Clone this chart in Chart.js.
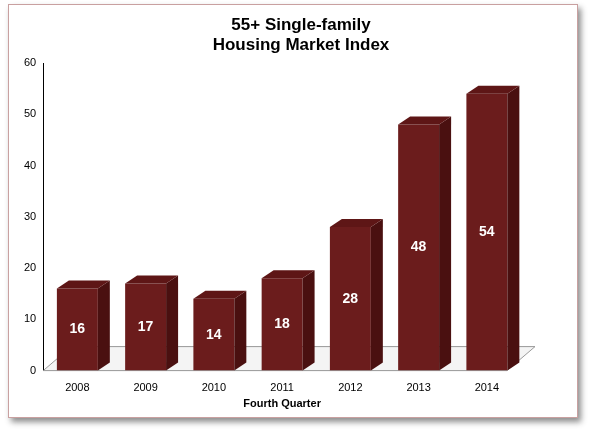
<!DOCTYPE html>
<html><head><meta charset="utf-8">
<script src="https://cdn.jsdelivr.net/npm/chart.js@4"></script>
<style>
body{margin:0;background:#fff;}
#frame{position:absolute;left:8px;top:4px;width:568px;height:412px;background:#fff;border:1px solid #c9a0a0;box-shadow:3px 4px 6px rgba(0,0,0,0.45);}
#c{position:absolute;left:0;top:0;}
</style></head><body>
<div id="frame"><canvas id="c" width="568" height="412"></canvas></div>
<script>
// chart values
var years = ["2008","2009","2010","2011","2012","2013","2014"];
var index = [16, 17, 14, 18, 28, 48, 54];
var yTicks = [0, 10, 20, 30, 40, 50, 60];
var titleLines = ["55+ Single-family", "Housing Market Index"];

var DX = 12, DY = -8;

// draws the side and top faces plus the floor, the value labels and the title
var box3d = {
  id: "box3d",
  beforeDatasetsDraw: function(chart) {
    var ctx = chart.ctx, a = chart.chartArea, y0 = chart.scales.y.getPixelForValue(0);
    ctx.save();
    ctx.fillStyle = "#f4f4f4"; ctx.strokeStyle = "#999"; ctx.lineWidth = 1;
    ctx.beginPath();
    ctx.moveTo(a.left, y0); ctx.lineTo(a.right - 14, y0);
    ctx.lineTo(a.right + 14, y0 - 24); ctx.lineTo(a.left + 28, y0 - 24);
    ctx.closePath(); ctx.fill(); ctx.stroke();
    ctx.restore();
  },
  afterDatasetsDraw: function(chart) {
    var ctx = chart.ctx;
    chart.getDatasetMeta(0).data.forEach(function(bar, i) {
      var l = bar.x - bar.width / 2, r = bar.x + bar.width / 2, t = bar.y, b = bar.base;
      ctx.save();
      ctx.fillStyle = "#4a1010";
      ctx.beginPath();
      ctx.moveTo(r, t); ctx.lineTo(r + DX, t + DY); ctx.lineTo(r + DX, b + DY); ctx.lineTo(r, b);
      ctx.closePath(); ctx.fill();
      ctx.fillStyle = "#5e1616";
      ctx.beginPath();
      ctx.moveTo(l, t); ctx.lineTo(l + DX, t + DY); ctx.lineTo(r + DX, t + DY); ctx.lineTo(r, t);
      ctx.closePath(); ctx.fill();
      ctx.fillStyle = "#fff";
      ctx.font = "bold 14px Arial, 'Liberation Sans'";
      ctx.textAlign = "center"; ctx.textBaseline = "middle";
      ctx.fillText(index[i], bar.x, (t + b) / 2);
      ctx.restore();
    });
    ctx.save();
    ctx.fillStyle = "#000";
    ctx.font = "bold 17px Arial, 'Liberation Sans'";
    ctx.textAlign = "center"; ctx.textBaseline = "middle";
    ctx.fillText(titleLines[0], 292, 20);
    ctx.fillText(titleLines[1], 292, 40);
    ctx.restore();
  }
};

new Chart(document.getElementById("c"), {
  type: "bar",
  data: { labels: years, datasets: [{ data: index, backgroundColor: "#6b1c1c", barPercentage: 0.6, categoryPercentage: 1 }] },
  options: {
    responsive: false, animation: false,
    layout: { padding: { left: 12, right: 56, top: 58, bottom: 2 } },
    plugins: { legend: { display: false }, tooltip: { enabled: false } },
    scales: {
      y: { min: 0, max: 60, afterBuildTicks: function(s) { s.ticks = yTicks.map(function(v) { return { value: v }; }); },
        grid: { display: false, drawTicks: true, tickLength: 4 }, border: { color: "#000" },
        ticks: { color: "#000", font: { family: "Arial, 'Liberation Sans'", size: 11 } } },
      x: { grid: { display: false }, border: { display: false },
        ticks: { color: "#000", font: { family: "Arial, 'Liberation Sans'", size: 11 } },
        title: { display: true, text: "Fourth Quarter", color: "#000", padding: { top: 0 },
          font: { family: "Arial, 'Liberation Sans'", size: 11, weight: "bold" } } }
    }
  },
  plugins: [box3d]
});
</script>
</body></html>
